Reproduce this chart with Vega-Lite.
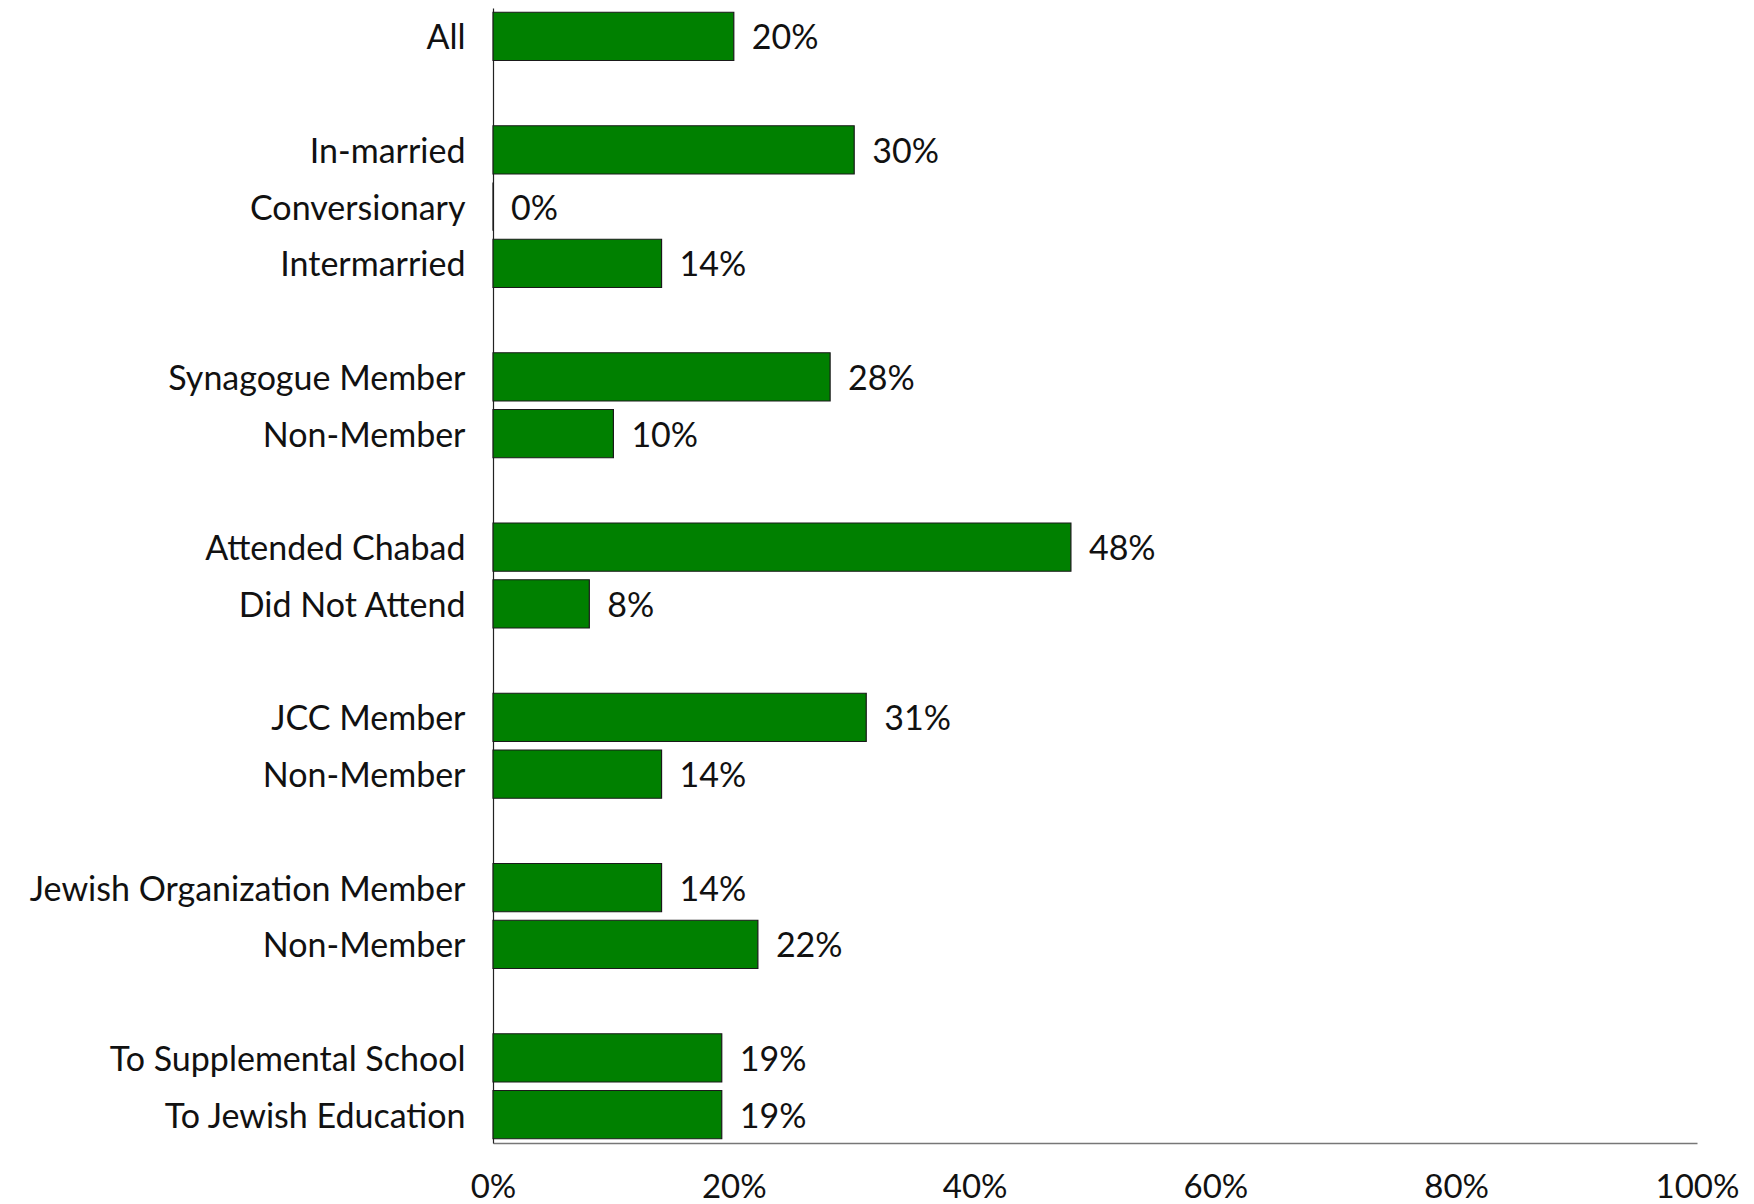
{
  "$schema": "https://vega.github.io/schema/vega-lite/v6.json",
  "width": 1204,
  "height": 1135,
  "autosize": {"type": "none"},
  "padding": {"left": 493, "top": 8, "right": 57, "bottom": 61},
  "background": "white",
  "config": {"view": {"stroke": null}, "font": "Lato"},
  "data": {
    "values": [
      {"key": "All|0", "value": 20},
      {"key": "In-married|2", "value": 30},
      {"key": "Conversionary|3", "value": 0},
      {"key": "Intermarried|4", "value": 14},
      {"key": "Synagogue Member|6", "value": 28},
      {"key": "Non-Member|7", "value": 10},
      {"key": "Attended Chabad|9", "value": 48},
      {"key": "Did Not Attend|10", "value": 8},
      {"key": "JCC Member|12", "value": 31},
      {"key": "Non-Member|13", "value": 14},
      {"key": "Jewish Organization Member|15", "value": 14},
      {"key": "Non-Member|16", "value": 22},
      {"key": "To Supplemental School|18", "value": 19},
      {"key": "To Jewish Education|19", "value": 19}
    ]
  },
  "encoding": {
    "y": {
      "field": "key",
      "type": "nominal",
      "scale": {
        "domain": ["All|0", "|1", "In-married|2", "Conversionary|3", "Intermarried|4", "|5", "Synagogue Member|6", "Non-Member|7", "|8", "Attended Chabad|9", "Did Not Attend|10", "|11", "JCC Member|12", "Non-Member|13", "|14", "Jewish Organization Member|15", "Non-Member|16", "|17", "To Supplemental School|18", "To Jewish Education|19"],
        "paddingInner": 0.15,
        "paddingOuter": 0.075
      },
      "axis": {
        "title": null,
        "labelExpr": "split(datum.label, '|')[0]",
        "labelFontSize": 34,
        "labelLimit": 0,
        "labelColor": "#111111",
        "labelPadding": 28,
        "labelOffset": 3,
        "ticks": false,
        "domainColor": "#222222",
        "domainWidth": 1.2,
        "grid": false
      }
    },
    "x": {
      "field": "value",
      "type": "quantitative",
      "scale": {"domain": [0, 100], "nice": false},
      "axis": {
        "title": null,
        "values": [0, 20, 40, 60, 80, 100],
        "labelExpr": "datum.value + '%'",
        "labelFontSize": 33,
        "labelColor": "#111111",
        "labelPadding": 28,
        "ticks": false,
        "domainColor": "#777777",
        "domainWidth": 1.5,
        "grid": false,
        "labelFlush": false
      }
    }
  },
  "layer": [
    {
      "mark": {"type": "bar", "color": "#008000", "stroke": "#1a1a1a", "strokeWidth": 1.2}
    },
    {
      "mark": {"type": "text", "align": "left", "baseline": "middle", "dx": 18, "dy": 3, "fontSize": 34, "color": "#111111"},
      "encoding": {"text": {"field": "label"}}
    }
  ],
  "transform": [{"calculate": "datum.value + '%'", "as": "label"}]
}
